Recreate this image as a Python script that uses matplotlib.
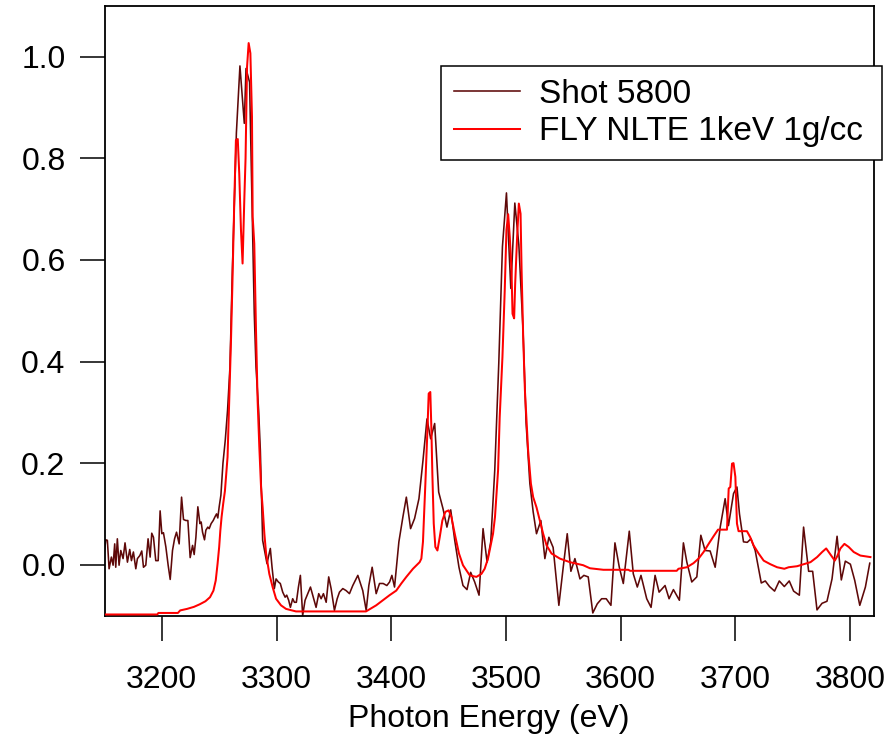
import matplotlib
matplotlib.use("Agg")
import matplotlib.pyplot as plt

plt.rcParams['font.family'] = ['Liberation Sans', 'DejaVu Sans']

# ---- Shot 5800 (measured) ----
shot_x = [3149.6, 3151.1, 3152.5, 3154.0, 3156.0, 3157.5, 3158.9, 3159.8, 3161.2, 3162.7,
          3164.2, 3166.2, 3167.9, 3170.0, 3172.0, 3173.5, 3175.2, 3177.3, 3178.7, 3180.8,
          3182.5, 3184.0, 3186.0, 3188.0, 3189.8, 3191.2, 3192.7, 3194.7, 3196.8, 3198.5,
          3200.0, 3201.4, 3203.5, 3205.5, 3207.3, 3209.3, 3211.1, 3212.8, 3215.1, 3217.2,
          3218.9, 3221.0, 3222.7, 3224.7, 3226.8, 3228.2, 3229.7, 3231.4, 3233.2, 3234.3,
          3235.5, 3237.2, 3238.4, 3240.1, 3241.3, 3243.0, 3244.8, 3246.5, 3247.7, 3248.8,
          3250.0, 3251.5, 3253.3, 3255.3, 3257.3, 3259.4, 3261.5, 3265.0, 3268.1, 3271.9,
          3273.4, 3276.5, 3279.2, 3280.6, 3282.1, 3284.4, 3285.9, 3287.9, 3290.0, 3291.7,
          3292.9, 3294.6, 3296.1, 3298.1, 3299.6, 3301.6, 3303.3, 3305.4, 3307.5, 3308.9,
          3310.6, 3312.1, 3314.1, 3315.6, 3317.3, 3319.1, 3320.8, 3322.8, 3324.9, 3327.2,
          3329.6, 3331.6, 3334.5, 3336.8, 3338.9, 3340.9, 3343.3, 3345.5, 3347.6, 3350.5,
          3352.9, 3354.9, 3357.8, 3360.7, 3363.6, 3366.5, 3370.9, 3375.2, 3378.2, 3380.5,
          3383.4, 3386.9, 3389.8, 3393.0, 3396.2, 3398.6, 3400.6, 3402.9, 3406.7, 3410.2,
          3413.2, 3416.9, 3420.4, 3424.2, 3427.7, 3431.2, 3434.4, 3437.9, 3441.4, 3445.2,
          3448.6, 3451.9, 3455.4, 3459.1, 3462.6, 3466.1, 3469.3, 3472.8, 3476.6, 3480.1,
          3483.6, 3486.8, 3490.3, 3493.8, 3497.0, 3500.5, 3504.3, 3507.8, 3511.3, 3515.0,
          3517.6, 3520.9, 3523.8, 3526.7, 3530.5, 3534.0, 3537.5, 3541.2, 3546.2, 3550.0,
          3553.5, 3556.7, 3560.2, 3564.6, 3568.0, 3571.8, 3575.8, 3579.7, 3583.5, 3587.5,
          3591.6, 3595.1, 3598.9, 3602.4, 3607.6, 3611.1, 3614.6, 3617.8, 3622.8, 3626.6,
          3630.1, 3633.6, 3638.8, 3642.3, 3646.1, 3651.3, 3654.8, 3657.8, 3662.1, 3666.5,
          3670.0, 3673.7, 3678.1, 3682.5, 3686.9, 3691.2, 3694.1, 3698.5, 3701.5, 3703.7,
          3707.2, 3710.5, 3713.7, 3717.4, 3722.7, 3726.2, 3729.9, 3734.3, 3738.4, 3742.8,
          3747.1, 3750.9, 3755.9, 3759.6, 3764.0, 3767.5, 3771.3, 3775.7, 3780.0, 3784.4,
          3788.8, 3792.5, 3796.0, 3800.4, 3804.2, 3808.6, 3813.5, 3817.3]
shot_y = [0.018, 0.049, 0.048, -0.008, 0.015, -0.001, 0.041, -0.005, 0.051, -0.001,
          0.028, 0.012, 0.043, 0.005, 0.030, 0.008, 0.025, -0.008, 0.012, 0.018,
          0.027, -0.005, -0.001, 0.051, 0.015, 0.062, 0.054, 0.008, 0.008, 0.106,
          0.061, 0.063, 0.035, -0.001, -0.029, 0.028, 0.051, 0.064, 0.041, 0.133,
          0.089, 0.087, 0.087, 0.014, 0.038, 0.020, 0.054, 0.114, 0.081, 0.084,
          0.064, 0.049, 0.068, 0.074, 0.071, 0.081, 0.087, 0.095, 0.100, 0.092,
          0.114, 0.137, 0.200, 0.245, 0.304, 0.389, 0.580, 0.850, 0.982, 0.869,
          0.977, 0.950, 0.645, 0.494, 0.389, 0.304, 0.225, 0.048, 0.022, 0.002,
          0.015, 0.032, -0.005, -0.047, -0.028, -0.034, -0.037, -0.054, -0.064, -0.060,
          -0.070, -0.084, -0.067, -0.074, -0.074, -0.044, -0.021, -0.100, -0.070, -0.057,
          -0.044, -0.060, -0.084, -0.057, -0.067, -0.057, -0.074, -0.024, -0.047, -0.090,
          -0.067, -0.054, -0.047, -0.051, -0.057, -0.041, -0.021, -0.051, -0.090, -0.041,
          -0.005, -0.057, -0.037, -0.037, -0.041, -0.034, -0.021, -0.044, 0.045, 0.094,
          0.133, 0.071, 0.091, 0.130, 0.205, 0.287, 0.248, 0.278, 0.143, 0.110,
          0.074, 0.108, 0.048, -0.005, -0.041, -0.049, -0.015, -0.034, -0.060, 0.071,
          0.005, 0.045, 0.186, 0.396, 0.626, 0.732, 0.544, 0.712, 0.630, 0.460,
          0.280, 0.160, 0.104, 0.061, 0.087, 0.012, 0.054, 0.034, -0.080, -0.005,
          0.061, -0.013, 0.012, -0.028, -0.021, -0.024, -0.095, -0.077, -0.067, -0.067,
          -0.080, 0.043, -0.005, -0.037, 0.066, -0.018, -0.044, -0.021, -0.067, -0.084,
          -0.021, -0.054, -0.041, -0.067, -0.049, -0.070, 0.043, 0.005, -0.034, -0.024,
          0.058, 0.028, 0.027, -0.005, 0.074, 0.130, 0.077, 0.140, 0.153, 0.100,
          0.045, 0.044, 0.051, 0.028, -0.036, -0.032, -0.043, -0.052, -0.032, -0.043,
          -0.032, -0.052, -0.060, 0.074, -0.013, -0.013, -0.089, -0.076, -0.072, -0.028,
          0.056, -0.030, 0.007, 0.001, -0.031, -0.080, -0.044, 0.003]

# ---- FLY NLTE 1keV 1g/cc (simulation) ----
fly_x = [3150.0, 3196.0, 3197.0, 3214.0, 3216.0, 3222.0, 3228.0, 3233.0, 3238.0, 3242.0,
         3245.0, 3247.0, 3248.6, 3250.0, 3251.0, 3252.1, 3253.5, 3255.0, 3257.3, 3258.8,
         3260.3, 3261.5, 3263.2, 3264.6, 3266.2, 3267.5, 3269.0, 3270.4, 3271.9, 3273.0,
         3274.3, 3275.7, 3277.2, 3278.6, 3279.2, 3280.6, 3282.1, 3283.5, 3285.0, 3286.5,
         3287.9, 3289.4, 3290.9, 3293.7, 3296.6, 3299.6, 3303.9, 3308.3, 3317.0, 3378.0,
         3381.0, 3386.9, 3392.7, 3398.6, 3404.4, 3408.8, 3413.2, 3419.0, 3424.8, 3426.3,
         3427.7, 3429.8, 3431.5, 3432.7, 3434.1, 3435.0, 3435.9, 3437.1, 3438.5, 3440.3,
         3442.3, 3444.6, 3447.2, 3450.1, 3452.5, 3455.4, 3459.1, 3462.6, 3468.5, 3474.3,
         3478.7, 3481.5, 3484.4, 3488.8, 3490.5, 3493.2, 3494.6, 3497.0, 3499.0, 3500.5,
         3502.0, 3503.4, 3504.9, 3505.8, 3507.2, 3508.1, 3509.8, 3511.3, 3512.8, 3513.7,
         3515.1, 3516.6, 3519.4, 3521.8, 3523.8, 3526.7, 3529.6, 3532.5, 3535.5, 3539.8,
         3547.1, 3555.8, 3567.4, 3573.3, 3585.0, 3606.8, 3608.3, 3649.0, 3650.5, 3657.8,
         3663.6, 3668.0, 3672.4, 3676.8, 3681.1, 3685.0, 3692.8, 3694.3, 3695.7, 3697.2,
         3698.5, 3700.1, 3701.5, 3702.9, 3710.2, 3713.1, 3716.0, 3720.4, 3724.8, 3730.6,
         3736.5, 3742.8, 3746.6, 3753.9, 3759.8, 3765.6, 3771.4, 3775.8, 3779.3, 3782.4,
         3786.8, 3788.8, 3791.7, 3795.2, 3798.9, 3803.3, 3809.1, 3817.9]
fly_y = [-0.098, -0.098, -0.095, -0.095, -0.090, -0.087, -0.083, -0.078, -0.072, -0.064,
         -0.051, -0.031, 0.002, 0.035, 0.067, 0.094, 0.120, 0.145, 0.212, 0.324,
         0.442, 0.550, 0.718, 0.836, 0.838, 0.770, 0.659, 0.593, 0.718, 0.800,
         0.980, 1.027, 1.007, 0.882, 0.685, 0.632, 0.462, 0.324, 0.232, 0.153,
         0.113, 0.061, 0.022, -0.018, -0.044, -0.067, -0.080, -0.087, -0.092, -0.092,
         -0.088, -0.080, -0.070, -0.060, -0.051, -0.037, -0.024, -0.008, 0.005, 0.012,
         0.045, 0.160, 0.260, 0.337, 0.340, 0.271, 0.178, 0.081, 0.035, 0.028,
         0.054, 0.087, 0.104, 0.107, 0.094, 0.061, 0.022, -0.001, -0.021, -0.024,
         -0.018, -0.008, 0.012, 0.061, 0.094, 0.186, 0.290, 0.409, 0.540, 0.659,
         0.690, 0.645, 0.580, 0.494, 0.485, 0.553, 0.645, 0.711, 0.691, 0.580,
         0.448, 0.343, 0.225, 0.160, 0.133, 0.113, 0.087, 0.061, 0.038, 0.022,
         0.012, 0.005, -0.001, -0.007, -0.010, -0.010, -0.012, -0.012, -0.008, -0.005,
         0.003, 0.012, 0.025, 0.041, 0.056, 0.069, 0.069, 0.150, 0.153, 0.199,
         0.200, 0.173, 0.081, 0.066, 0.066, 0.054, 0.038, 0.022, 0.008, 0.001,
         -0.005, -0.008, -0.005, -0.003, 0.001, 0.005, 0.015, 0.025, 0.032, 0.022,
         0.008, 0.016, 0.032, 0.041, 0.035, 0.025, 0.018, 0.015]

x_ticks = [3200, 3300, 3400, 3500, 3600, 3700, 3800]
y_ticks = [0.0, 0.2, 0.4, 0.6, 0.8, 1.0]
series_labels = ["Shot 5800", "FLY NLTE 1keV 1g/cc"]
x_label = "Photon Energy (eV)"

W, H = 884, 736
fig = plt.figure(figsize=(W / 100, H / 100), dpi=100)
ax = fig.add_axes([104.5 / W, 1 - 616 / H, (874 - 104.5) / W, (616 - 6) / H])

ax.plot(shot_x, shot_y, color='#5e0808', lw=1.15, label=series_labels[0], zorder=2)
ax.plot(fly_x, fly_y, color='#ff0000', lw=1.45, label=series_labels[1], zorder=3)

ax.set_xlim(3150, 3821)
ax.set_ylim(-0.101, 1.1)
ax.set_xticks(x_ticks)
ax.set_xticklabels([str(t) for t in x_ticks])
ax.set_yticks(y_ticks)
ax.set_yticklabels([f"{t:.1f}" for t in y_ticks])
ax.tick_params(axis='both', direction='out', length=18, width=1.1, labelsize=23,
               color='black', labelcolor='black')
ax.tick_params(axis='y', pad=10)
ax.tick_params(axis='x', pad=17)
for s in ax.spines.values():
    s.set_linewidth(1.3)
    s.set_color('black')
ax.set_xlabel(x_label, fontsize=23, labelpad=7)

leg = fig.legend(loc='upper left',
                 bbox_to_anchor=(441 / W, 1 - 161 / H, 441 / W, 95 / H),
                 mode='expand',
                 fontsize=24, frameon=True, fancybox=False, framealpha=1,
                 edgecolor='black', borderpad=0.38, labelspacing=0.2,
                 handlelength=2.0, handletextpad=0.55, borderaxespad=0)
leg.get_frame().set_linewidth(1.1)

fig.savefig("out.png", dpi=100)
